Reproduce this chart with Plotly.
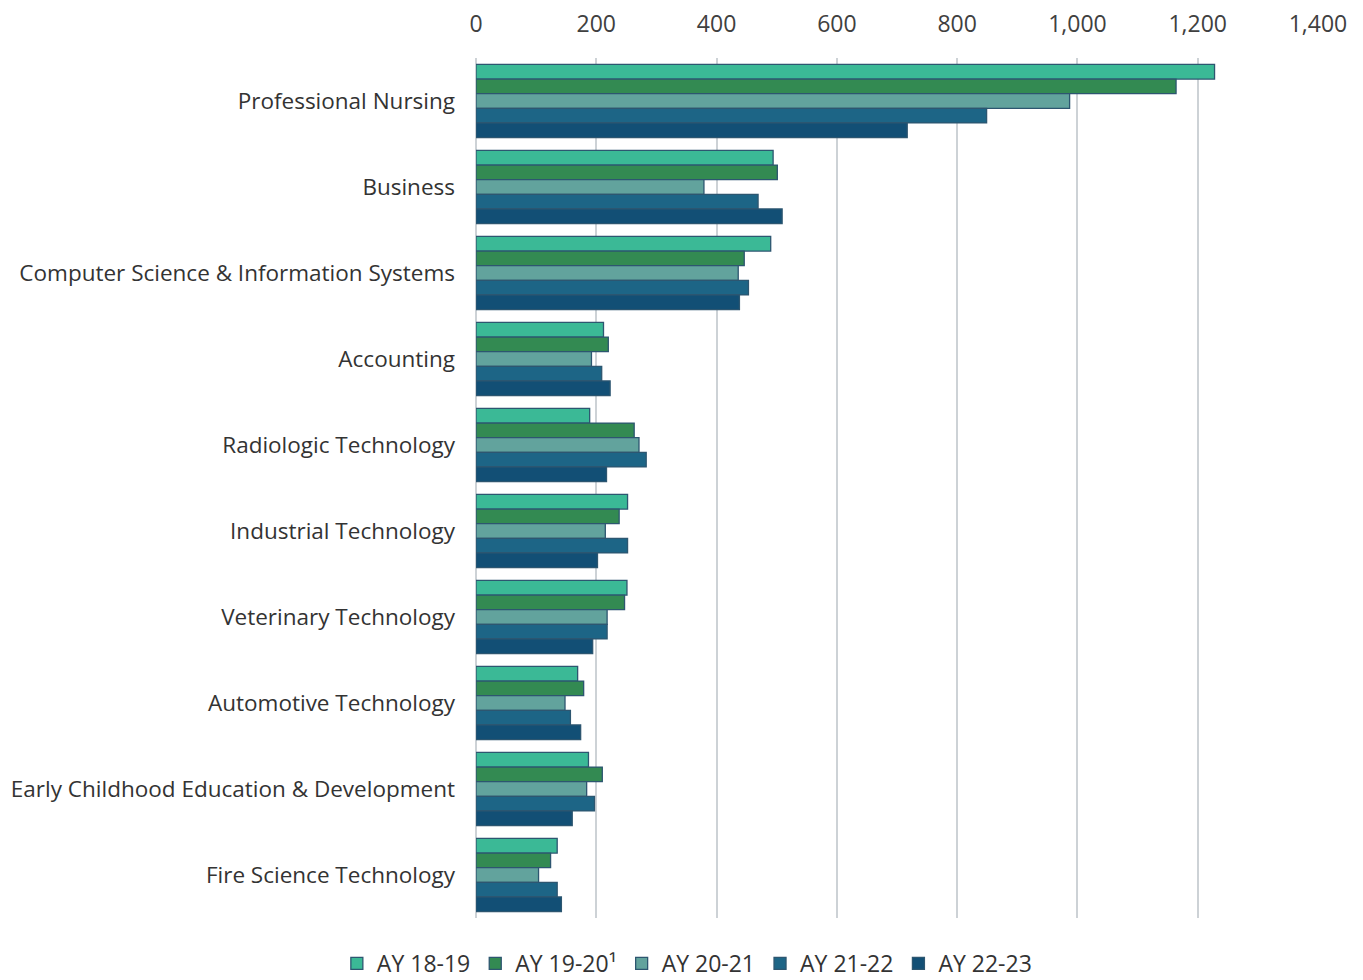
import plotly.graph_objects as go

categories = [
    "Professional Nursing",
    "Business",
    "Computer Science & Information Systems",
    "Accounting",
    "Radiologic Technology",
    "Industrial Technology",
    "Veterinary Technology",
    "Automotive Technology",
    "Early Childhood Education & Development",
    "Fire Science Technology",
]

series_names = ["AY 18-19", "AY 19-20¹", "AY 20-21", "AY 21-22", "AY 22-23"]

ay_18_19 = [1228, 494, 490, 212, 189, 252, 251, 169, 187, 135]
ay_19_20 = [1164, 501, 446, 220, 263, 238, 247, 179, 210, 124]
ay_20_21 = [987, 379, 436, 192, 271, 215, 218, 148, 184, 104]
ay_21_22 = [849, 469, 453, 209, 283, 252, 218, 157, 197, 135]
ay_22_23 = [717, 509, 438, 223, 217, 202, 194, 174, 160, 142]

colors = ["#3BB996", "#338A52", "#62A39D", "#1D6586", "#124F75"]

fig = go.Figure()
for name, vals, col in zip(series_names,
                           [ay_18_19, ay_19_20, ay_20_21, ay_21_22, ay_22_23],
                           colors):
    fig.add_trace(go.Bar(
        y=categories, x=vals, name=name, orientation="h",
        marker=dict(color=col, line=dict(color="#2D5670", width=1.3)),
    ))

fig.update_layout(
    width=1355, height=977,
    barmode="group", bargap=0.15, bargroupgap=0,
    plot_bgcolor="white", paper_bgcolor="white",
    margin=dict(l=468, r=45, t=50, b=67),
    font=dict(family="Open Sans, Lato, sans-serif", size=22, color="#333333"),
    xaxis=dict(
        side="top", range=[0, 1400], dtick=200, tickformat=",",
        showgrid=True, gridcolor="#CDD2D6", gridwidth=1.5,
        zeroline=True, zerolinecolor="#CDD2D6", zerolinewidth=1.5,
        tickfont=dict(size=23, color="#404040"), ticks="", ticklabelstandoff=20,
        automargin=False,
    ),
    yaxis=dict(
        autorange="reversed", showgrid=False, zeroline=False,
        tickfont=dict(size=22.5, color="#333333"), ticks="", ticklabelstandoff=20,
        automargin=False,
    ),
    legend=dict(
        orientation="h", xref="container", x=0.501, xanchor="center",
        yref="container", y=0.0, yanchor="bottom",
        font=dict(size=23, color="#333333"), itemwidth=30,
        traceorder="normal",
    ),
)

fig.write_html("out.html")
